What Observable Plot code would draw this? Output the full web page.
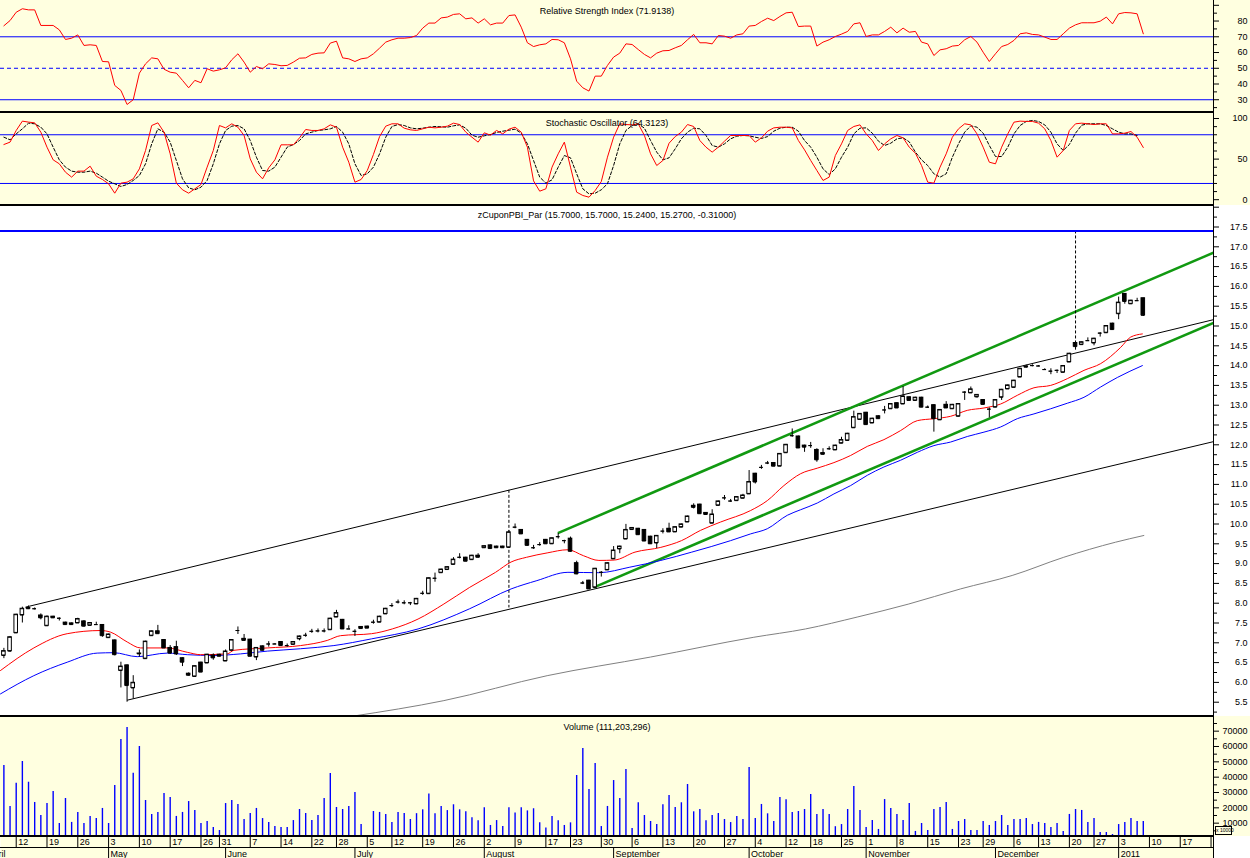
<!DOCTYPE html>
<html><head><meta charset="utf-8">
<script src="https://cdn.jsdelivr.net/npm/d3@7"></script>
<script src="https://cdn.jsdelivr.net/npm/@observablehq/plot@0.6"></script>
<style>
html,body{margin:0;padding:0;background:#fff;}
#chart{position:relative;width:1250px;height:858px;overflow:hidden;font-family:"Liberation Sans",Arial,sans-serif;}
.sep{position:absolute;left:0;width:1213px;height:2px;background:#000;}
.vaxis{position:absolute;left:1213px;top:0;width:1px;height:858px;background:#000;}
.xunit{position:absolute;left:1215px;top:826px;width:15px;height:7px;border:1px solid #000;font-size:5px;line-height:7px;text-align:center;background:#FFFFE0;white-space:nowrap;}
</style></head><body><div id="chart"></div>
<script>
// ---------- data: one entry per trading day (index 0 = first visible day) ----------
const openP = [6.68,6.79,7.25,7.70,7.88,7.86,7.69,7.43,7.66,7.62,
7.51,7.49,7.50,7.54,7.44,7.46,7.45,7.13,7.06,6.30,
6.43,5.86,6.73,6.60,7.18,7.29,7.07,6.87,6.89,6.61,
6.22,6.15,6.50,6.49,6.68,6.70,6.54,6.81,7.31,7.10,
7.08,6.64,6.91,6.97,6.97,7.02,6.93,6.96,7.10,7.19,
7.29,7.30,7.30,7.33,7.65,7.58,7.35,7.29,7.40,7.41,
7.52,7.52,7.73,7.94,8.03,8.01,8.01,7.98,8.25,8.24,
8.63,8.77,8.85,8.98,9.16,9.15,9.10,9.20,9.40,9.46,
9.43,9.43,9.41,9.92,9.85,9.60,9.40,9.48,9.60,9.50,
9.68,9.58,9.63,9.01,8.51,8.57,8.40,8.78,8.84,9.12,
9.37,9.62,9.86,9.88,9.85,9.68,9.52,9.82,9.88,9.80,
9.92,10.05,10.46,10.49,10.28,10.02,10.47,10.66,10.58,10.59,
10.65,10.76,11.27,11.43,11.54,11.54,11.46,11.80,12.23,12.21,
11.98,11.98,11.87,11.79,11.90,11.87,12.04,12.11,12.43,12.64,
12.81,12.55,12.72,12.88,12.91,13.05,13.03,13.20,13.12,13.19,
12.95,13.00,12.63,13.01,12.91,12.72,13.33,13.31,13.21,13.13,
12.90,12.95,13.20,13.41,13.45,13.71,13.96,14.00,13.99,13.90,
13.86,13.88,13.83,14.09,14.57,14.53,14.63,14.57,14.82,14.83,
15.06,15.31,15.81,15.56,15.64,15.70];
const highP = [6.86,7.16,7.72,7.90,7.93,7.88,7.73,7.68,7.67,7.63,
7.52,7.50,7.62,7.56,7.51,7.52,7.46,7.22,7.07,6.51,
6.44,6.17,6.82,7.04,7.30,7.44,7.08,6.93,7.04,6.62,
6.24,6.42,6.51,6.71,6.72,6.71,6.82,7.08,7.40,7.21,
7.09,6.88,6.92,7.03,6.98,7.03,6.97,7.03,7.17,7.24,
7.34,7.35,7.35,7.62,7.82,7.59,7.43,7.33,7.41,7.42,
7.57,7.67,7.87,7.99,8.08,8.06,8.02,8.12,8.30,8.64,
8.76,8.86,8.92,9.15,9.25,9.16,9.21,9.25,9.45,9.47,
9.44,9.44,9.83,10.00,9.86,9.61,9.46,9.53,9.61,9.65,
9.76,9.59,9.67,9.06,8.55,8.58,8.88,8.80,9.02,9.43,
9.44,9.99,9.91,9.89,9.86,9.69,9.71,9.88,10.02,9.93,
10.00,10.20,10.51,10.50,10.29,10.36,10.58,10.72,10.62,10.69,
10.75,11.35,11.28,11.48,11.58,11.55,11.78,12.01,12.40,12.22,
11.99,12.06,11.90,11.90,11.95,11.99,12.19,12.29,12.85,12.79,
12.82,12.67,12.73,12.97,13.04,13.06,13.47,13.21,13.20,13.20,
12.98,13.01,12.89,13.09,13.02,13.04,13.34,13.46,13.27,13.14,
12.93,13.14,13.40,13.51,13.63,13.93,14.01,14.02,14.00,13.92,
13.92,13.89,14.00,14.31,14.58,14.60,14.70,14.69,14.83,15.01,
15.07,15.73,15.82,15.65,15.70,15.70];
const lowP = [6.60,6.76,7.24,7.50,7.84,7.83,7.58,7.42,7.62,7.55,
7.45,7.45,7.49,7.40,7.43,7.45,7.14,7.12,6.67,5.86,
5.50,5.58,6.64,6.59,7.17,7.22,6.86,6.71,6.68,6.40,
6.16,6.14,6.25,6.48,6.56,6.65,6.54,6.80,7.21,7.05,
6.66,6.55,6.80,6.89,6.96,6.92,6.89,6.95,7.05,7.14,
7.24,7.25,7.25,7.32,7.64,7.34,7.35,7.16,7.35,7.36,
7.47,7.51,7.72,7.89,7.98,7.96,7.94,7.97,8.20,8.23,
8.53,8.76,8.84,8.97,9.12,9.05,9.09,9.14,9.39,9.37,
9.39,9.39,9.39,9.88,9.74,9.45,9.36,9.44,9.49,9.49,
9.62,9.50,9.29,8.72,8.47,8.35,8.39,8.66,8.83,9.11,
9.25,9.61,9.85,9.72,9.56,9.49,9.38,9.75,9.79,9.79,
9.91,10.04,10.38,10.25,10.23,10.01,10.46,10.60,10.55,10.58,
10.64,10.75,11.01,11.38,11.50,11.45,11.45,11.79,12.19,11.91,
11.81,11.91,11.56,11.74,11.86,11.86,12.03,12.10,12.42,12.63,
12.50,12.54,12.65,12.78,12.90,12.92,13.02,13.11,13.11,12.94,
12.92,12.32,12.62,12.92,12.90,12.71,13.12,13.30,13.18,13.01,
12.68,12.94,13.12,13.40,13.44,13.70,13.94,13.97,13.97,13.88,
13.77,13.80,13.82,14.08,14.39,14.52,14.62,14.50,14.72,14.82,
14.90,15.16,15.55,15.55,15.63,15.24];
const closeP = [6.79,7.14,7.71,7.86,7.86,7.86,7.63,7.66,7.63,7.62,
7.46,7.46,7.60,7.42,7.50,7.46,7.18,7.21,6.70,6.40,
5.92,5.99,6.72,7.03,7.29,7.23,6.87,6.74,6.72,6.51,
6.18,6.41,6.26,6.70,6.62,6.66,6.78,7.07,7.31,7.06,
6.66,6.87,6.81,6.97,6.97,6.93,6.93,7.02,7.16,7.19,
7.29,7.30,7.30,7.61,7.75,7.35,7.35,7.29,7.36,7.37,
7.52,7.66,7.86,7.94,8.03,8.01,8.01,8.11,8.25,8.63,
8.63,8.85,8.91,9.10,9.16,9.06,9.20,9.16,9.44,9.38,
9.40,9.40,9.79,9.92,9.75,9.46,9.40,9.48,9.50,9.64,
9.68,9.58,9.31,8.74,8.51,8.36,8.87,8.78,9.01,9.33,
9.43,9.85,9.90,9.73,9.57,9.50,9.70,9.82,9.80,9.92,
9.99,10.19,10.42,10.26,10.24,10.24,10.57,10.66,10.58,10.68,
10.72,11.06,11.06,11.43,11.54,11.46,11.77,12.00,12.23,11.92,
11.94,11.98,11.62,11.76,11.90,11.98,12.12,12.28,12.70,12.78,
12.51,12.66,12.66,12.88,13.03,12.93,13.22,13.12,13.19,12.95,
12.95,12.66,12.88,12.93,13.01,13.03,13.33,13.40,13.26,13.02,
12.90,13.13,13.39,13.50,13.62,13.92,13.98,14.00,13.99,13.90,
13.86,13.88,13.99,14.30,14.48,14.59,14.63,14.68,14.82,15.00,
14.91,15.59,15.62,15.64,15.64,15.27];
const volume = [47600,20900,36100,50200,36700,23500,15000,22800,30700,9800,
26100,10500,17000,9800,14400,13000,19600,9800,34600,64600,
72400,42600,60000,24800,15700,17000,29400,26700,14400,17000,
24100,18300,9800,11100,7200,5200,22800,24800,22200,12400,
16300,19600,13000,10500,7800,7200,7200,11700,18900,16300,
11700,15000,26100,42400,20200,18900,20900,30000,9100,0,
17600,17000,15700,10500,17000,16300,12400,16200,18700,29100,
16100,20900,18200,22000,18700,17400,13500,11500,20000,8500,
11700,7800,20000,16700,20000,18000,19400,10200,6900,14300,
11500,8500,10200,41100,58700,32000,48900,7800,20900,37800,
26100,45000,6500,23300,15000,11100,9100,22000,28100,20200,
23300,35200,17400,18900,11500,15000,16300,12400,10400,14300,
12400,46300,13000,22200,16100,11100,26700,25200,17000,17600,
18900,28700,15700,18900,15700,7700,9100,18900,33900,18300,
7200,11700,5900,25400,19600,15700,11700,22800,4600,9800,
5200,18900,20200,23500,5900,11100,12400,5200,5200,11100,
8500,11100,15000,8500,12400,12400,13000,9100,10500,9800,
7200,9800,4600,15700,18900,18300,10500,13000,3900,3900,
2600,9100,10500,13000,11100,11120];
const rsi = [77.0,80.3,85.6,87.8,87.1,87.1,77.2,77.2,77.2,74.4,
68.3,69.1,71.2,64.5,64.9,64.5,54.3,54.1,39.1,35.9,
27.0,30.0,46.9,52.8,56.6,56.0,49.4,47.5,46.9,42.3,
37.6,42.3,40.8,49.7,48.2,49.0,50.3,55.4,59.2,53.9,
47.5,51.1,49.7,52.8,52.4,51.6,51.8,53.9,56.4,56.6,
58.8,59.6,59.8,66.0,67.2,56.6,56.0,54.3,56.0,56.6,
59.2,62.8,66.6,68.1,69.1,69.1,69.5,70.8,75.5,78.7,
78.7,82.0,82.5,84.2,84.6,81.4,82.0,78.7,81.4,77.6,
78.7,78.7,83.5,83.9,76.1,66.2,63.8,64.9,65.5,68.3,
68.1,66.2,56.0,41.8,37.6,35.5,45.0,45.0,51.8,57.1,
59.6,65.5,65.1,61.9,58.8,56.6,59.6,61.1,61.3,63.0,
64.5,68.1,71.5,66.2,66.2,65.5,70.8,70.4,69.1,71.2,
71.9,76.8,77.2,79.7,81.8,80.3,82.9,85.2,85.6,76.5,
76.8,76.8,64.1,66.6,68.1,70.2,71.7,73.4,78.2,78.9,
70.2,71.2,71.2,73.4,76.1,72.5,75.5,72.9,73.4,66.6,
65.5,58.1,61.7,62.4,64.1,64.5,68.1,70.2,66.6,60.2,
54.3,59.2,63.8,65.1,67.7,71.9,72.5,71.5,71.2,69.8,
68.3,68.3,71.9,75.5,77.6,78.9,78.9,78.9,79.9,82.5,
78.2,84.6,85.4,85.2,84.6,71.9138];
const stochK = [68.0,70.9,85.3,96.8,95.6,94.7,83.2,64.7,49.1,44.2,
33.9,27.8,35.2,35.2,41.3,29.0,24.9,19.6,8.0,20.4,
21.6,25.7,38.0,60.6,91.4,94.7,83.2,56.5,20.4,12.2,
8.0,13.4,18.7,40.1,60.6,91.4,88.5,93.5,89.3,79.1,
50.3,33.9,25.7,39.3,49.1,67.6,67.6,67.6,76.2,86.5,
85.3,85.3,87.3,92.2,89.3,64.7,46.2,21.6,24.9,35.9,
55.7,77.8,90.6,93.5,93.5,88.1,86.1,85.3,87.3,89.3,
88.5,89.3,90.6,94.3,92.6,83.2,77.0,70.9,82.4,79.5,
85.3,81.1,86.9,89.3,83.2,64.7,23.2,10.5,13.4,40.1,
56.5,70.9,40.1,9.3,5.2,3.1,11.3,22.4,52.4,77.0,
93.5,92.6,92.2,93.5,79.1,56.5,42.1,48.3,69.6,77.8,
83.2,92.6,90.2,72.9,64.7,58.6,64.7,72.1,79.1,79.1,
79.1,79.1,70.9,76.2,84.4,88.5,89.3,89.3,88.5,72.9,
61.4,48.3,36.0,23.7,27.8,54.4,68.8,85.3,90.2,92.2,
81.1,72.9,60.6,68.8,75.0,79.1,76.2,64.7,57.3,42.1,
21.6,20.4,40.1,56.5,77.0,87.3,93.5,92.2,81.1,64.7,
46.2,44.2,64.7,81.1,95.5,96.8,96.4,96.4,94.3,87.3,
72.9,52.4,60.6,85.3,93.5,94.3,93.5,92.6,93.5,93.5,
81.1,81.1,82.0,84.0,77.0,64.3123];
const stochD = [77.0,73.8,81.1,87.3,94.3,93.5,89.3,81.1,64.7,49.1,
40.1,35.2,33.9,33.9,35.2,32.7,27.8,22.8,19.6,16.3,
18.7,23.7,29.8,44.2,68.8,87.3,83.2,70.9,48.3,25.7,
14.6,12.2,15.4,23.7,44.2,68.8,85.3,90.6,91.4,87.3,
72.9,52.4,36.0,35.2,40.1,52.4,64.7,68.0,72.9,81.1,
83.2,85.3,86.1,87.3,90.2,83.2,68.8,44.2,29.8,31.9,
40.1,56.5,77.0,90.2,92.6,91.4,88.5,87.3,88.1,89.3,
90.2,89.8,89.3,91.0,92.2,88.1,79.5,77.0,78.7,80.3,
82.8,84.4,85.6,86.9,82.0,68.8,48.3,27.8,20.4,24.5,
40.1,54.4,51.6,31.9,13.4,7.2,8.0,12.2,19.6,42.1,
68.8,85.3,91.4,93.5,88.1,72.9,58.6,49.1,51.6,62.7,
75.0,83.2,88.1,87.3,79.1,66.8,64.7,68.8,75.0,78.3,
79.1,78.7,77.0,75.4,77.8,84.4,88.1,89.3,89.3,84.4,
72.9,64.7,52.4,38.0,31.0,38.0,52.4,64.7,81.1,88.1,
88.5,82.0,72.1,66.8,69.6,75.0,76.2,71.3,58.6,49.1,
42.1,31.9,27.8,31.9,52.4,68.8,83.2,91.0,89.3,82.0,
66.8,53.2,53.2,64.7,81.1,91.4,96.4,97.6,96.4,92.2,
83.2,68.8,60.6,68.0,82.0,91.8,93.5,93.5,93.5,91.4,
87.3,83.2,81.1,81.1,79.1,NaN];

// moving averages (day position, price)
const maRedIdx = [-0.55,4.86,10.28,15.69,17.31,20.03,22.19,26.52,29.77,31.93,36.27,37.34,42.76,48.17,52.5,54.66,59.7,63.06,67.25,71.44,75.63,79.83,82.35,84.87,88.21,91.58,94.09,96.61,99.13,102.47,106.66,110.02,113.12,116.37,121.24,123.95,126.65,129.36,132.07,134.77,137.48,140.19,142.89,145.6,148.31,151.01,153.72,156.43,159.13,161.84,164.55,167.25,169.96,172.67,175.37,178.08,181.33,182.95,184.85];
const maRedVal = [6.30,6.87,7.23,7.31,7.27,7.02,6.87,6.87,6.76,6.70,6.72,6.81,6.87,6.93,7.06,7.18,7.23,7.35,7.60,7.98,8.40,8.78,9.04,9.16,9.27,9.35,9.20,9.08,9.09,9.29,9.41,9.58,9.84,10.05,10.34,10.59,10.97,11.27,11.41,11.55,11.73,11.96,12.13,12.36,12.61,12.66,12.72,12.87,12.93,13.03,13.25,13.44,13.50,13.67,13.88,14.05,14.46,14.72,14.80];
const maBlueIdx = [-0.55,4.86,10.28,15.15,17.85,21.65,26.52,29.77,34.09,38.42,42.76,48.17,53.58,59.7,67.25,75.63,82.35,86.54,91.58,96.61,101.64,106.66,111.69,118.0,121.24,123.95,127.2,129.36,132.07,134.77,137.48,140.19,142.89,145.6,148.31,151.01,153.72,156.43,159.13,161.84,164.55,167.25,169.96,172.67,175.37,178.08,180.79,184.85];
const maBlueVal = [5.71,6.17,6.51,6.74,6.75,6.65,6.74,6.70,6.68,6.72,6.79,6.85,6.93,7.10,7.35,7.86,8.36,8.57,8.78,8.77,8.91,9.08,9.29,9.58,9.75,9.88,10.22,10.36,10.53,10.76,10.97,11.23,11.44,11.61,11.81,11.98,12.07,12.21,12.32,12.45,12.66,12.78,12.91,13.05,13.20,13.46,13.70,14.00];
const maGrayIdx = [56.76,71.44,88.21,104.99,121.76,130.16,138.54,146.93,155.31,163.71,172.09,180.48,185.09];
const maGrayVal = [5.15,5.54,6.17,6.64,7.14,7.35,7.65,7.98,8.36,8.70,9.16,9.54,9.71];

// trend lines (day position, price)
const blackTrendFrom = [[3.5, 7.90], [20.0, 5.55]];
const blackTrendTo = [[196.4, 15.16], [196.4, 12.08]];
const greenTrendFrom = [[89.95, 9.77], [95.8, 8.40]];
const greenTrendTo = [[196.4, 16.85], [196.4, 15.08]];
const markerIdx = [82, 174];
const markerFrom = [10.85, 17.4];
const markerTo = [7.88, 14.46];
const resistance = [17.4];

// date axis
const dayTickIdx = [2,7,12,17,22,27,32,35,40,45,50,54,59,63,68,73,78,83,88,92,97,102,107,112,117,122,127,131,136,140,145,150,155,159,164,168,173,177,181,186,191,196];
const dayTickLabel = ["12","19","26","3","10","17","26","31","7","14","22","28","5","12","19","26","2","9","17","23","30","6","13","20","27","4","12","18","25","1","8","15","23","29","6","13","20","27","3","10","17","24"];
const monthIdx = [-3,17,36,57,78,99,121,140,161,181];
const monthLabel = ["April","May","June","July","August","September","October","November","December","2011"];

// axis ticks
const rsiMajor = [30,40,50,60,70,80,90];
const rsiMinor = [25,35,45,55,65,75,85];
const rsiLabels = [30,40,50,60,70,80];
const stochMajor = [0,50,100];
const stochMinor = [-10,10,20,30,40,60,70,80,90];
const priceMajor = [5.5,6.0,6.5,7.0,7.5,8.0,8.5,9.0,9.5,10.0,10.5,11.0,11.5,12.0,12.5,13.0,13.5,14.0,14.5,15.0,15.5,16.0,16.5,17.0,17.5,18.0];
const priceMinor = [5.25,5.75,6.25,6.75,7.25,7.75,8.25,8.75,9.25,9.75,10.25,10.75,11.25,11.75,12.25,12.75,13.25,13.75,14.25,14.75,15.25,15.75,16.25,16.75,17.25,17.75];
const priceLabels = [5.5,6.0,6.5,7.0,7.5,8.0,8.5,9.0,9.5,10.0,10.5,11.0,11.5,12.0,12.5,13.0,13.5,14.0,14.5,15.0,15.5,16.0,16.5,17.0,17.5];
const volMajor = [10000,20000,30000,40000,50000,60000,70000];
const volMinor = [5000,15000,25000,35000,45000,55000,65000,75000];

const titles = {
  rsi: "Relative Strength Index (71.9138)",
  stoch: "Stochastic Oscillator (64.3123)",
  price: "zCuponPBI_Par (15.7000, 15.7000, 15.2400, 15.2700, -0.31000)",
  volume: "Volume (111,203,296)"
};

// ---------- drawing ----------
const xDomain = [-0.55, 196.4];
const YELLOW = "#FFFFE0", RED = "#ff0000", BLUE = "#0000ff", GREEN = "#119911", GRAY = "#808080";
const FONT = '"Liberation Sans", Arial, sans-serif';
const chart = document.getElementById("chart");

function panel(top, height, bg, yOpts, marks) {
  const svg = Plot.plot({
    width: 1250, height, marginLeft: 0, marginRight: 37, marginTop: 0, marginBottom: 0,
    x: {domain: xDomain, axis: null},
    y: Object.assign({axis: null}, yOpts),
    style: {background: bg, fontFamily: FONT, fontSize: "9px", color: "black", overflow: "hidden"},
    marks
  });
  svg.style.position = "absolute";
  svg.style.left = "0px";
  svg.style.top = top + "px";
  chart.appendChild(svg);
}
function rightAxis(major, minor, labels, fmt) {
  return [
    Plot.axisY({anchor: "right", ticks: minor, tickSize: 3, tickFormat: () => "", stroke: "black"}),
    Plot.axisY({anchor: "right", ticks: major, tickSize: 5, tickFormat: () => "", stroke: "black"}),
    Plot.text(labels, {y: d => d, text: fmt, frameAnchor: "right", dx: 34, textAnchor: "end", fontSize: 9, fill: "black"})
  ];
}
const idx = (d, i) => i;

// RSI
panel(0, 112, YELLOW, {domain: [21.9, 93.05]}, [
  Plot.ruleY([70, 30], {stroke: BLUE}),
  Plot.ruleY([50], {stroke: BLUE, strokeDasharray: "4,3"}),
  Plot.line(rsi, {x: idx, y: d => d, stroke: RED, strokeWidth: 1, clip: true}),
  ...rightAxis(rsiMajor, rsiMinor, rsiLabels, d => String(d)),
  Plot.text([titles.rsi], {frameAnchor: "top", dy: 7, fontSize: 9, fill: "black"})
]);

// Stochastic
panel(112, 93, YELLOW, {domain: [-7.15, 107.43]}, [
  Plot.ruleY([80, 20], {stroke: BLUE}),
  Plot.line(stochD, {x: idx, y: d => d, stroke: "black", strokeWidth: 1, strokeDasharray: "3,2", clip: true}),
  Plot.line(stochK, {x: idx, y: d => d, stroke: RED, strokeWidth: 1, clip: true}),
  ...rightAxis(stochMajor, stochMinor, stochMajor, d => String(d)),
  Plot.text([titles.stoch], {frameAnchor: "top", dy: 7, fontSize: 9, fill: "black"})
]);

// Price
const candles = openP.map((o, i) => ({i, o, h: highP[i], l: lowP[i], c: closeP[i]}));
const BW = 0.29;
panel(205, 511, "white", {domain: [5.139, 18.043]}, [
  Plot.line(maGrayIdx, {x: d => d, y: (d, i) => maGrayVal[i], stroke: GRAY, strokeWidth: 1, curve: "monotone-x", clip: true}),
  Plot.link(blackTrendFrom, {x1: d => d[0], y1: d => d[1], x2: (d, i) => blackTrendTo[i][0], y2: (d, i) => blackTrendTo[i][1], stroke: "black", strokeWidth: 1, clip: true}),
  Plot.link(greenTrendFrom, {x1: d => d[0], y1: d => d[1], x2: (d, i) => greenTrendTo[i][0], y2: (d, i) => greenTrendTo[i][1], stroke: GREEN, strokeWidth: 2.6, clip: true}),
  Plot.line(maBlueIdx, {x: d => d, y: (d, i) => maBlueVal[i], stroke: BLUE, strokeWidth: 1, curve: "monotone-x", clip: true}),
  Plot.line(maRedIdx, {x: d => d, y: (d, i) => maRedVal[i], stroke: RED, strokeWidth: 1, curve: "monotone-x", clip: true}),
  Plot.ruleX(markerIdx, {x: d => d, y1: (d, i) => markerFrom[i], y2: (d, i) => markerTo[i], stroke: "black", strokeDasharray: "3,2"}),
  Plot.ruleY(resistance, {stroke: BLUE, strokeWidth: 2}),
  Plot.ruleX(candles, {x: "i", y1: "l", y2: "h", stroke: "black"}),
  Plot.rect(candles, {x1: d => d.i - BW, x2: d => d.i + BW, y1: "o", y2: "c", fill: d => d.c >= d.o ? "white" : "black", stroke: "black"}),
  Plot.ruleY(candles, {x1: d => d.i - BW, x2: d => d.i + BW, y: "o", stroke: "black"}),
  Plot.ruleY(candles, {x1: d => d.i - BW, x2: d => d.i + BW, y: "c", stroke: "black"}),
  ...rightAxis(priceMajor, priceMinor, priceLabels, d => d.toFixed(1)),
  Plot.text([titles.price], {frameAnchor: "top", dy: 6, fontSize: 9, fill: "black"})
]);

// Volume
panel(716, 122, YELLOW, {domain: [0, 79565]}, [
  Plot.ruleX(volume, {x: idx, y1: 0, y2: d => d, stroke: BLUE, strokeWidth: 1.4}),
  ...rightAxis(volMajor, volMinor, volMajor, d => String(d)),
  Plot.text([titles.volume], {frameAnchor: "top", dy: 7, fontSize: 9, fill: "black"})
]);

// Date axis
panel(836, 22, "white", {domain: [0, 2], reverse: true}, [
  Plot.frame({fill: YELLOW, stroke: null}),
  Plot.ruleY([1], {stroke: "black"}),
  Plot.ruleX(dayTickIdx, {x: d => d, y1: 0, y2: 1, stroke: "black", clip: true}),
  Plot.text(dayTickIdx, {x: d => d, y: 0.5, text: (d, i) => dayTickLabel[i], dx: 2, textAnchor: "start", fontSize: 9, fill: "black", clip: true}),
  Plot.ruleX(monthIdx, {x: d => d, y1: 1, y2: 2, stroke: "black", clip: true}),
  Plot.text(monthIdx, {x: d => d, y: 1.5, text: (d, i) => monthLabel[i], dx: 2, dy: 1, textAnchor: "start", fontSize: 9, fill: "black", clip: true})
]);

// panel separators, right axis line, unit box
for (const t of [111, 204, 715, 835]) {
  const s = document.createElement("div"); s.className = "sep"; s.style.top = t + "px"; chart.appendChild(s);
}
const va = document.createElement("div"); va.className = "vaxis"; chart.appendChild(va);
const xu = document.createElement("div"); xu.className = "xunit"; xu.textContent = "x 10000"; chart.appendChild(xu);
</script></body></html>
